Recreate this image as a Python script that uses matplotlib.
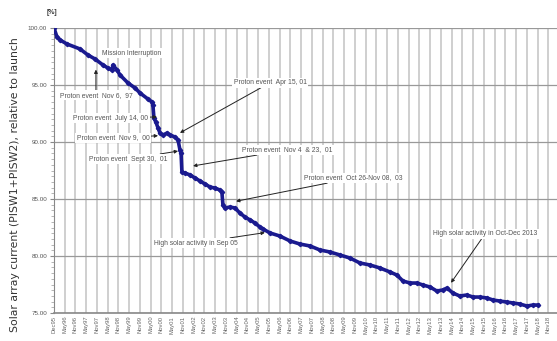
import matplotlib
matplotlib.use('Agg')
import matplotlib.pyplot as plt
from matplotlib.ticker import MultipleLocator

# data (decimal year, % of launch current)
years = [1995.92, 1996.06, 1996.20, 1996.52, 1997.13, 1997.50, 1997.83, 1998.20,
         1998.43, 1998.62, 1998.66, 1998.85, 1998.99, 1999.36, 1999.69, 1999.92,
         2000.29, 2000.48, 2000.52, 2000.57, 2000.66, 2000.76, 2000.85, 2000.99,
         2001.18, 2001.32, 2001.55, 2001.69, 2001.78, 2001.83, 2001.87, 2002.01,
         2002.25, 2002.48, 2002.71, 2002.94, 2003.18, 2003.41, 2003.64, 2003.73,
         2003.78, 2003.87, 2004.11, 2004.34, 2004.57, 2004.80, 2005.04, 2005.27,
         2005.50, 2005.64, 2005.97, 2006.43, 2006.90, 2007.36, 2007.83, 2008.29,
         2008.76, 2009.22, 2009.69, 2010.15, 2010.62, 2011.08, 2011.55, 2011.87,
         2012.15, 2012.48, 2012.80, 2013.08, 2013.41, 2013.73, 2014.01, 2014.20,
         2014.48, 2014.80, 2015.13, 2015.41, 2015.73, 2016.06, 2016.34, 2016.66,
         2016.99, 2017.27, 2017.59, 2017.92, 2018.20, 2018.43]
current = [100.0, 99.21, 98.95, 98.60, 98.16, 97.63, 97.28, 96.75,
           96.49, 96.32, 96.75, 96.32, 95.88, 95.18, 94.74, 94.30,
           93.77, 93.51, 93.25, 92.11, 91.75, 91.23, 90.79, 90.61,
           90.79, 90.61, 90.44, 90.18, 89.30, 89.04, 87.37, 87.28,
           87.11, 86.84, 86.58, 86.32, 86.05, 85.96, 85.79, 85.61,
           84.47, 84.21, 84.30, 84.21, 83.77, 83.42, 83.16, 82.89,
           82.54, 82.37, 82.02, 81.75, 81.32, 81.05, 80.88, 80.53,
           80.35, 80.09, 79.82, 79.39, 79.21, 78.95, 78.60, 78.33,
           77.81, 77.63, 77.63, 77.46, 77.28, 76.93, 77.02, 77.19,
           76.75, 76.49, 76.58, 76.40, 76.40, 76.32, 76.14, 76.05,
           75.96, 75.88, 75.79, 75.61, 75.70, 75.70]

tick_labels = ['Dec95']
for yr in range(96, 119):
    tick_labels += ['May%02d' % (yr % 100), 'Nov%02d' % (yr % 100)]
tick_pos = [1995.92 + 0.5 * i for i in range(len(tick_labels))]

y_ticks = [75, 80, 85, 90, 95, 100]

# text, text position (year, %), arrow tip (year, %) or None
notes = [
    ('Mission Interruption', (1999.55, 97.8), None),
    ('Proton event  Nov 6,  97', (1997.87, 94.1), (1997.87, 96.35)),
    ('Proton event  July 14, 00', (1998.57, 92.1), (2000.71, 92.2)),
    ('Proton event  Nov 9,  00', (1998.66, 90.35), (2000.76, 90.55)),
    ('Proton event  Sept 30,  01', (1999.36, 88.5), (2001.69, 89.2)),
    ('Proton event  Apr 15, 01', (2005.97, 95.2), (2001.78, 90.8)),
    ('Proton event  Nov 4  & 23,  01', (2006.76, 89.3), (2002.39, 87.9)),
    ('Proton event  Oct 26-Nov 08,  03', (2009.83, 86.84), (2004.39, 84.8)),
    ('High solar activity in Sep 05', (2002.52, 81.14), (2005.73, 82.05)),
    ('High solar activity in Oct-Dec 2013', (2015.97, 81.93), (2014.39, 77.65)),
]

plt.rcParams['font.family'] = ['Liberation Sans', 'DejaVu Sans']

fig = plt.figure(figsize=(5.57, 3.41), dpi=100)
ax = fig.add_axes([54 / 557, 28 / 341, 1 - 54 / 557, 285 / 341])

ax.plot(years, current, color='#1a1a8f', lw=2.6, marker='D', ms=2.2,
        solid_joinstyle='round', zorder=3)

ax.set_xlim(1995.92, 2019.32)
ax.set_ylim(75, 100)
ax.set_xticks(tick_pos)
ax.set_xticklabels(tick_labels, rotation=90, fontsize=4.2, color='#666666')
ax.set_yticks(y_ticks)
ax.set_yticklabels(['%.2f' % v for v in y_ticks], fontsize=4.5, color='#555555')
ax.yaxis.set_minor_locator(MultipleLocator(0.5))
ax.tick_params(axis='x', length=0, pad=2)
ax.tick_params(axis='y', which='major', length=3, color='#888888', pad=2)
ax.tick_params(axis='y', which='minor', length=2, color='#aaaaaa')

ax.grid(axis='x', color='#cccccc', lw=1.3, zorder=0)
ax.grid(axis='y', color='#999999', lw=0.9, zorder=0)
for s in ['top', 'right']:
    ax.spines[s].set_visible(False)
ax.spines['left'].set_color('#888888')
ax.spines['bottom'].set_color('#888888')
ax.spines['bottom'].set_linewidth(1.2)

for text, pos, tip in notes:
    box = dict(facecolor='white', edgecolor='none', pad=1.2)
    if tip is None:
        ax.text(pos[0], pos[1], text, fontsize=4.9, color='#555555',
                ha='center', va='center', bbox=box, zorder=4)
    else:
        ax.annotate(text, xy=tip, xytext=pos, fontsize=4.9, color='#555555',
                    ha='center', va='center', bbox=box, zorder=4,
                    arrowprops=dict(arrowstyle='-|>', color='#222222', lw=0.7,
                                    mutation_scale=5, shrinkA=0, shrinkB=0))

fig.text(15 / 557, 1 - 185 / 341,
         'Solar array current (PISW1+PISW2), relative to launch',
         fontsize=7.8, color='#333333', family='DejaVu Sans',
         rotation=90, ha='center', va='center')
fig.text(52 / 557, 1 - 13 / 341, '[%]', fontsize=5, color='#333333',
         ha='center', va='center', fontweight='bold')

fig.savefig('out.png', dpi=100)
